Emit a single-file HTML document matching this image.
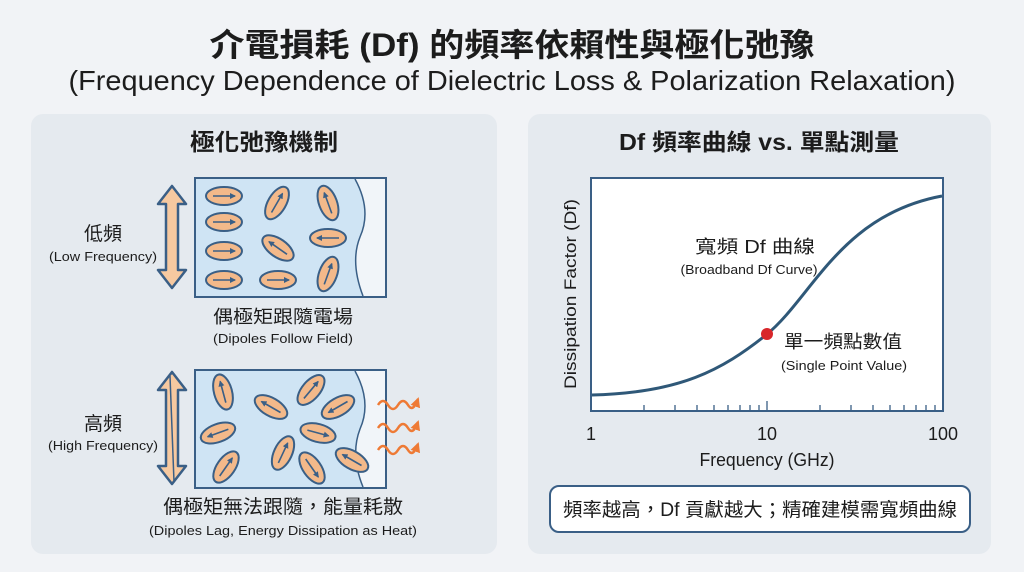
<!DOCTYPE html>
<html><head><meta charset="utf-8"><style>
html,body{margin:0;padding:0;background:#f1f3f6;}
svg{display:block}
text{font-family:"Liberation Sans","Noto Sans CJK TC",sans-serif;fill:#1c1c1c}
</style></head><body>
<svg width="1024" height="572" viewBox="0 0 1024 572" xmlns="http://www.w3.org/2000/svg">
<defs>
<marker id="ah" markerWidth="6" markerHeight="6" refX="5" refY="3" orient="auto" markerUnits="userSpaceOnUse"><path d="M0,0 L6,3 L0,6 z" fill="#3a5f86"/></marker>
<marker id="oh" markerWidth="10" markerHeight="10" refX="8" refY="5" orient="auto" markerUnits="userSpaceOnUse"><path d="M0,0 L10,5 L0,10 z" fill="#ee7a35"/></marker>
<g id="dp"><ellipse rx="18" ry="9" fill="#f3b98a" stroke="#3a5f86" stroke-width="2"/><line x1="-11" y1="0" x2="11" y2="0" stroke="#3a5f86" stroke-width="1.6" marker-end="url(#ah)"/></g>
</defs>
<rect width="1024" height="572" fill="#f1f3f6"/>
<text x="512" y="56" text-anchor="middle" font-size="32" font-weight="bold" textLength="605" lengthAdjust="spacingAndGlyphs">介電損耗 (Df) 的頻率依賴性與極化弛豫</text>
<text x="512" y="90" text-anchor="middle" font-size="28" textLength="887" lengthAdjust="spacingAndGlyphs">(Frequency Dependence of Dielectric Loss &amp; Polarization Relaxation)</text>

<rect x="31" y="114" width="466" height="440" rx="12" fill="#e5eaef"/>
<rect x="528" y="114" width="463" height="440" rx="12" fill="#e5eaef"/>
<text x="264" y="150" text-anchor="middle" font-size="23" font-weight="bold" textLength="148" lengthAdjust="spacingAndGlyphs">極化弛豫機制</text>
<text x="759" y="150" text-anchor="middle" font-size="23" font-weight="bold" textLength="280" lengthAdjust="spacingAndGlyphs">Df 頻率曲線 vs. 單點測量</text>

<!-- left top -->
<text x="103" y="240" text-anchor="middle" font-size="19">低頻</text>
<text x="103" y="261" text-anchor="middle" font-size="13" textLength="108" lengthAdjust="spacingAndGlyphs">(Low Frequency)</text>
<path d="M172,186 L186,204 L178,204 L178,270 L186,270 L172,288 L158,270 L166,270 L166,204 L158,204 Z" fill="#f6c9a0" stroke="#3a5f86" stroke-width="2.5" stroke-linejoin="round"/>
<rect x="195" y="178" width="191" height="119" fill="#cfe4f4" stroke="#3a5f86" stroke-width="2"/>
<path d="M355,179 Q372,210 360,237 Q350,262 363,296 L385,296 L385,179 Z" fill="#f1f5f9" stroke="none"/>
<path d="M355,179 Q372,210 360,237 Q350,262 363,296" fill="none" stroke="#3a5f86" stroke-width="1.5"/>
<use href="#dp" transform="translate(224,196)"/>
<use href="#dp" transform="translate(277,203) rotate(-60)"/>
<use href="#dp" transform="translate(328,203) rotate(-110)"/>
<use href="#dp" transform="translate(224,222)"/>
<use href="#dp" transform="translate(278,248) rotate(215)"/>
<use href="#dp" transform="translate(328,238) rotate(180)"/>
<use href="#dp" transform="translate(224,251)"/>
<use href="#dp" transform="translate(224,280)"/>
<use href="#dp" transform="translate(278,280)"/>
<use href="#dp" transform="translate(328,274) rotate(-70)"/>
<text x="283" y="323" text-anchor="middle" font-size="18" textLength="140" lengthAdjust="spacingAndGlyphs">偶極矩跟隨電場</text>
<text x="283" y="343" text-anchor="middle" font-size="13" textLength="140" lengthAdjust="spacingAndGlyphs">(Dipoles Follow Field)</text>

<!-- left bottom -->
<text x="103" y="430" text-anchor="middle" font-size="19">高頻</text>
<text x="103" y="450" text-anchor="middle" font-size="13" textLength="110" lengthAdjust="spacingAndGlyphs">(High Frequency)</text>
<path d="M172,372 L186,390 L178,390 L178,466 L186,466 L172,484 L158,466 L166,466 L166,390 L158,390 Z" fill="#f6c9a0" stroke="#3a5f86" stroke-width="2.5" stroke-linejoin="round"/>
<line x1="170" y1="376" x2="174" y2="482" stroke="#3a5f86" stroke-width="1.5"/>
<rect x="195" y="370" width="191" height="118" fill="#cfe4f4" stroke="#3a5f86" stroke-width="2"/>
<path d="M355,371 Q372,402 360,429 Q350,455 363,487 L385,487 L385,371 Z" fill="#f1f5f9"/>
<path d="M355,371 Q372,402 360,429 Q350,455 363,487" fill="none" stroke="#3a5f86" stroke-width="1.5"/>
<use href="#dp" transform="translate(223,392) rotate(-105)"/>
<use href="#dp" transform="translate(271,407) rotate(210)"/>
<use href="#dp" transform="translate(311,390) rotate(-50)"/>
<use href="#dp" transform="translate(338,407) rotate(150)"/>
<use href="#dp" transform="translate(218,433) rotate(160)"/>
<use href="#dp" transform="translate(318,433) rotate(15)"/>
<use href="#dp" transform="translate(226,467) rotate(-55)"/>
<use href="#dp" transform="translate(283,453) rotate(-65)"/>
<use href="#dp" transform="translate(312,468) rotate(55)"/>
<use href="#dp" transform="translate(352,460) rotate(210)"/>
<g fill="none" stroke="#ee7a35" stroke-width="2.5">
<path d="M378,405 q5,-8 10,0 t10,0 t10,0 t10,-6" marker-end="url(#oh)"/>
<path d="M378,428 q5,-8 10,0 t10,0 t10,0 t10,-6" marker-end="url(#oh)"/>
<path d="M378,450 q5,-8 10,0 t10,0 t10,0 t10,-6" marker-end="url(#oh)"/>
</g>
<text x="283" y="513" text-anchor="middle" font-size="19" textLength="240" lengthAdjust="spacingAndGlyphs">偶極矩無法跟隨，能量耗散</text>
<text x="283" y="535" text-anchor="middle" font-size="13" textLength="268" lengthAdjust="spacingAndGlyphs">(Dipoles Lag, Energy Dissipation as Heat)</text>

<!-- chart -->
<rect x="591" y="178" width="352" height="233" fill="#ffffff" stroke="#3a5f86" stroke-width="2"/>
<g stroke="#3a5f86" stroke-width="1.3">
<line x1="644" y1="411" x2="644" y2="405"/><line x1="675" y1="411" x2="675" y2="405"/><line x1="697" y1="411" x2="697" y2="405"/><line x1="714" y1="411" x2="714" y2="405"/><line x1="728" y1="411" x2="728" y2="405"/><line x1="740" y1="411" x2="740" y2="405"/><line x1="750" y1="411" x2="750" y2="405"/><line x1="759" y1="411" x2="759" y2="405"/><line x1="767" y1="411" x2="767" y2="401"/>
<line x1="820" y1="411" x2="820" y2="405"/><line x1="851" y1="411" x2="851" y2="405"/><line x1="873" y1="411" x2="873" y2="405"/><line x1="890" y1="411" x2="890" y2="405"/><line x1="904" y1="411" x2="904" y2="405"/><line x1="916" y1="411" x2="916" y2="405"/><line x1="926" y1="411" x2="926" y2="405"/><line x1="935" y1="411" x2="935" y2="405"/>
</g>
<path d="M592,395 C680,393 722,370 766,335 C812,298 840,215 942,196" fill="none" stroke="#2f5878" stroke-width="3"/>
<circle cx="767" cy="334" r="6" fill="#d8262a"/>
<text x="755" y="253" text-anchor="middle" font-size="18" textLength="120" lengthAdjust="spacingAndGlyphs">寬頻 Df 曲線</text>
<text x="749" y="274" text-anchor="middle" font-size="13" textLength="137" lengthAdjust="spacingAndGlyphs">(Broadband Df Curve)</text>
<text x="843" y="348" text-anchor="middle" font-size="18" textLength="118" lengthAdjust="spacingAndGlyphs">單一頻點數值</text>
<text x="844" y="370" text-anchor="middle" font-size="13" textLength="126" lengthAdjust="spacingAndGlyphs">(Single Point Value)</text>
<text transform="translate(576,294) rotate(-90)" text-anchor="middle" font-size="17" textLength="190" lengthAdjust="spacingAndGlyphs">Dissipation Factor (Df)</text>
<text x="591" y="440" text-anchor="middle" font-size="18">1</text>
<text x="767" y="440" text-anchor="middle" font-size="18">10</text>
<text x="943" y="440" text-anchor="middle" font-size="18">100</text>
<text x="767" y="466" text-anchor="middle" font-size="18" textLength="135" lengthAdjust="spacingAndGlyphs">Frequency (GHz)</text>
<rect x="550" y="486" width="420" height="46" rx="9" fill="#ffffff" stroke="#3a5f86" stroke-width="2"/>
<text x="760" y="516" text-anchor="middle" font-size="19" textLength="394" lengthAdjust="spacingAndGlyphs">頻率越高，Df 貢獻越大；精確建模需寬頻曲線</text>
</svg>
</body></html>
